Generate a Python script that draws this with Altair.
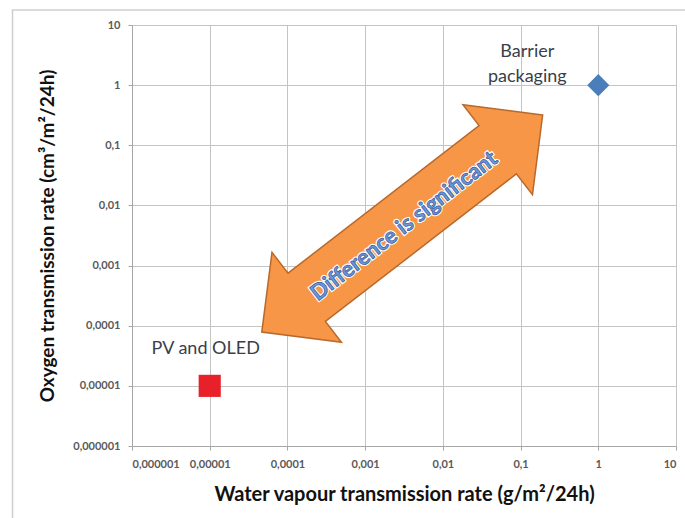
import altair as alt
import pandas as pd

# Tick positions and their comma-decimal labels (shared by both axes)
tick_values = [0.000001, 0.00001, 0.0001, 0.001, 0.01, 0.1, 1, 10]
tick_labels = ["0,000001", "0,00001", "0,0001", "0,001", "0,01", "0,1", "1", "10"]

# Application requirements: water vapour vs oxygen transmission rate
categories = ["PV and OLED", "Barrier packaging"]
wvtr = [0.00001, 1]
otr = [0.00001, 1]
shapes = ["square", "diamond"]
colors = ["#E8202A", "#4A7EBB"]
label_dx = [-4, -71]
label_dy = [-37, -33]
label_text = ["PV and OLED", "Barrier\npackaging"]

# Double-headed arrow annotation centred between the two groups
arrow_x = [0.003]
arrow_y = [0.005]
arrow_text = ["Difference is significant"]

FONT = "Lato"
label_expr = "[" + ",".join(f"'{t}'" for t in tick_labels) + "][round(log(datum.value)/LN10)+6]"

pts = pd.DataFrame({"cat": categories, "wvtr": wvtr, "otr": otr,
                    "shape": shapes, "color": colors, "label": label_text})
arrow_df = pd.DataFrame({"wvtr": arrow_x, "otr": arrow_y, "label": arrow_text})

x_enc = alt.X("wvtr:Q",
              scale=alt.Scale(type="log", domain=[0.000001, 10], nice=False),
              axis=alt.Axis(values=tick_values, labelExpr=label_expr,
                            title="Water vapour transmission  rate (g/m²/24h)",
                            titleFontSize=20))
y_enc = alt.Y("otr:Q",
              scale=alt.Scale(type="log", domain=[0.000001, 10], nice=False),
              axis=alt.Axis(values=tick_values, labelExpr=label_expr,
                            title="Oxygen transmission rate (cm³/m²/24h)"))

# Light outer frame around the figure
frame = alt.Chart(pd.DataFrame({"a": [0]})).mark_rect(
    fill=None, stroke="#CFCFCF", strokeWidth=1.5
).encode(x=alt.value(-119.5), x2=alt.value(580), y=alt.value(-15), y2=alt.value(520))

arrow_path = ("M1,0 L0.68,-0.32 L0.68,-0.172 L-0.68,-0.172 L-0.68,-0.32 L-1,0 "
              "L-0.68,0.32 L-0.68,0.172 L0.68,0.172 L0.68,0.32 Z")
arrow = alt.Chart(arrow_df).mark_point(
    shape=arrow_path, size=126025, angle=322.3, filled=True,
    color="#F79646", stroke="#B8692C", strokeWidth=1.5, opacity=1
).encode(x=x_enc, y=y_enc)

arrow_glow = alt.Chart(arrow_df).mark_text(
    font=FONT, fontSize=22, fontWeight="bold", angle=322.3, dy=3,
    align="center", baseline="middle", fill="white", stroke="white", strokeWidth=3
).encode(x="wvtr:Q", y="otr:Q", text="label:N")
arrow_label = alt.Chart(arrow_df).mark_text(
    font=FONT, fontSize=22, fontWeight="bold", angle=322.3, dy=3,
    align="center", baseline="middle", fill="#6F96D6", stroke="#34589A", strokeWidth=0.7
).encode(x="wvtr:Q", y="otr:Q", text="label:N")

points = alt.Chart(pts).mark_point(filled=True, size=490, opacity=1).encode(
    x=x_enc, y=y_enc,
    shape=alt.Shape("shape:N", scale=None),
    color=alt.Color("color:N", scale=None),
)

# One text layer per group label so each can carry its own offset
label_layers = [
    alt.Chart(pts).transform_filter(alt.datum.cat == cat).mark_text(
        font=FONT, fontSize=18, color="#3A3F4A", align="center",
        baseline="middle", lineBreak="\n", lineHeight=25, dx=dx, dy=dy
    ).encode(x="wvtr:Q", y="otr:Q", text="label:N")
    for cat, dx, dy in zip(categories, label_dx, label_dy)
]

chart = alt.layer(frame, arrow, points, *label_layers, arrow_glow, arrow_label).properties(
    width=544, height=421,
    autosize=alt.AutoSizeParams(type="none"),
    padding={"left": 132, "top": 25, "right": 9, "bottom": 72},
    background="white",
).configure_view(stroke=None).configure_axis(
    grid=True, gridColor="#C4C4C4", gridWidth=1,
    domainColor="#A6A6A6", tickColor="#A6A6A6", tickSize=4,
    labelFont=FONT, labelFontSize=11, labelFontWeight="bold", labelColor="#595959",
    titleFont=FONT, titleFontSize=19, titleFontWeight="bold", titleColor="#111111",
).configure_axisX(labelPadding=8, titlePadding=15).configure_axisY(
    labelPadding=8, titlePadding=15)

chart.save("out.html", embed_options={"renderer": "svg", "actions": False})
